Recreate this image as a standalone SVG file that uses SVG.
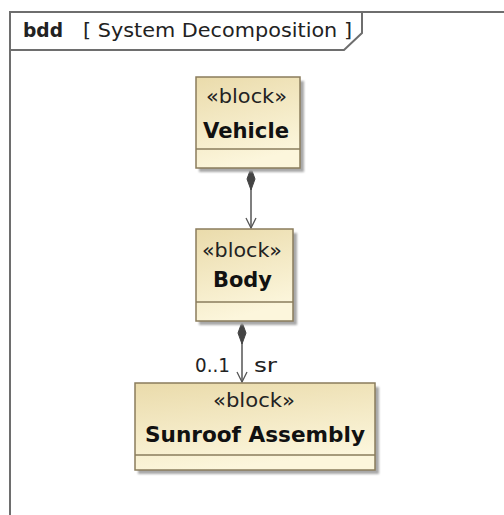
<svg xmlns="http://www.w3.org/2000/svg" width="504" height="515" viewBox="0 0 504 515">
  <defs>
    <linearGradient id="blockFill" x1="0" y1="0" x2="0.3" y2="1">
      <stop offset="0" stop-color="#eadbab"/>
      <stop offset="1" stop-color="#fcf6dc"/>
    </linearGradient>
    <filter id="shadowBlur" x="-10%" y="-10%" width="130%" height="130%">
      <feGaussianBlur stdDeviation="1"/>
    </filter>
    <marker id="openArrow" viewBox="0 0 12 12" refX="11" refY="6" markerWidth="12" markerHeight="12" markerUnits="userSpaceOnUse" orient="auto">
      <path d="M1,1 L11,6 L1,11" fill="none" stroke="#555" stroke-width="1.3"/>
    </marker>
  </defs>
  <style>
    .frame { fill: none; stroke: #6e6e6e; stroke-width: 2; }
    .block { fill: url(#blockFill); stroke: #8a7c5c; stroke-width: 1.5; }
    .shadow { fill: #a8a8a8; filter: url(#shadowBlur); }
    .sep { stroke: #8a7c5c; stroke-width: 1.5; }
    .stereo { font-family: "DejaVu Sans", Verdana, sans-serif; font-size: 19px; fill: #222; }
    .name { font-family: "DejaVu Sans", Verdana, sans-serif; font-size: 21px; font-weight: bold; fill: #111; }
    .edge { stroke: #555; stroke-width: 1.5; fill: none; }
    .diamond { fill: #444; stroke: #444; stroke-width: 1; }
    .label { font-family: "DejaVu Sans", Verdana, sans-serif; font-size: 19px; fill: #222; }
    .title { font-family: "DejaVu Sans", Verdana, sans-serif; font-size: 19px; fill: #222; }
  </style>

  <rect width="504" height="515" fill="#ffffff"/>

  <!-- diagram frame with name tab -->
  <g id="frame">
    <path class="frame" d="M10,516 L10,12 L506,12"/>
    <path class="frame" d="M10,50 L344,50 L362,33 L362,12" stroke-width="1.5"/>
    <text class="title" x="23" y="37" font-weight="bold" textLength="40" lengthAdjust="spacingAndGlyphs">bdd</text>
    <text class="title" x="83" y="37" textLength="269" lengthAdjust="spacingAndGlyphs">[ System Decomposition ]</text>
  </g>

  <!-- connectors -->
  <g id="connectors">
    <line class="edge" x1="251" y1="170" x2="251" y2="228" marker-end="url(#openArrow)"/>
    <path class="diamond" d="M251,168 L255,179 L251,190 L247,179 Z"/>
    <line class="edge" x1="242" y1="323" x2="242" y2="382" marker-end="url(#openArrow)"/>
    <path class="diamond" d="M242,322 L246,333 L242,344 L238,333 Z"/>
    <text class="label" x="195" y="372" textLength="35" lengthAdjust="spacingAndGlyphs">0..1</text>
    <text class="label" x="254" y="372" textLength="23" lengthAdjust="spacingAndGlyphs">sr</text>
  </g>

  <g id="vehicle">
    <rect class="shadow" x="199" y="81" width="105" height="91"/>
    <rect class="block" x="196" y="77" width="104" height="91"/>
    <line class="sep" x1="196" y1="149" x2="300" y2="149"/>
    <text class="stereo" x="206" y="103" textLength="81" lengthAdjust="spacingAndGlyphs">«block»</text>
    <text class="name" x="203" y="138" textLength="86" lengthAdjust="spacingAndGlyphs">Vehicle</text>
  </g>

  <g id="body">
    <rect class="shadow" x="199" y="233" width="98" height="92"/>
    <rect class="block" x="196" y="229" width="97" height="92"/>
    <line class="sep" x1="196" y1="302" x2="293" y2="302"/>
    <text class="stereo" x="202" y="257" textLength="80" lengthAdjust="spacingAndGlyphs">«block»</text>
    <text class="name" x="213" y="287" textLength="59" lengthAdjust="spacingAndGlyphs">Body</text>
  </g>

  <g id="sunroof-assembly">
    <rect class="shadow" x="138" y="387" width="241" height="87"/>
    <rect class="block" x="135" y="383" width="240" height="87"/>
    <line class="sep" x1="135" y1="455" x2="375" y2="455"/>
    <text class="stereo" x="213" y="407" textLength="82" lengthAdjust="spacingAndGlyphs">«block»</text>
    <text class="name" x="145" y="442" textLength="220" lengthAdjust="spacingAndGlyphs">Sunroof Assembly</text>
  </g>
</svg>
